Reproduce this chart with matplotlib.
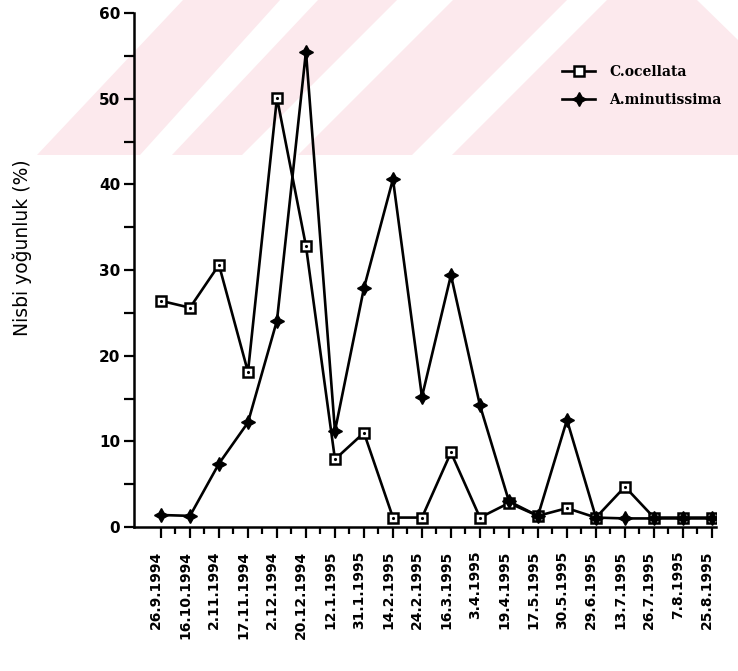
import numpy as np
import matplotlib
matplotlib.use('Agg')
import matplotlib.pyplot as plt
from matplotlib.patches import Polygon
from matplotlib.transforms import ScaledTranslation

dates = ['26.9.1994', '16.10.1994', '2.11.1994', '17.11.1994', '2.12.1994',
         '20.12.1994', '12.1.1995', '31.1.1995', '14.2.1995', '24.2.1995',
         '16.3.1995', '3.4.1995', '19.4.1995', '17.5.1995', '30.5.1995',
         '29.6.1995', '13.7.1995', '26.7.1995', '7.8.1995', '25.8.1995']
c_ocellata = [26.4, 25.6, 30.6, 18.1, 50.1, 32.8, 7.9, 11.0, 1.1, 1.1,
              8.7, 1.1, 2.8, 1.3, 2.2, 1.1, 4.7, 1.1, 1.1, 1.1]
a_minutissima = [1.4, 1.3, 7.4, 12.2, 24.1, 55.5, 11.2, 27.9, 40.6, 15.2,
                 29.4, 14.2, 3.0, 1.3, 12.5, 1.1, 1.0, 1.0, 1.0, 1.0]

W, H = 738, 671
fig = plt.figure(figsize=(W / 100, H / 100), dpi=100)

# pale pink watermark stripes from the scanned page (pixel coords, y from top)
stripes = [
    [(183, 0), (280, 0), (140, 155), (37, 155)],
    [(318, 0), (397, 0), (242, 155), (172, 155)],
    [(453, 0), (567, 0), (412, 155), (298, 155)],
    [(607, 0), (697, 0), (738, 40), (738, 155), (452, 155)],
]
for poly in stripes:
    pts = [(x / W, 1 - y / H) for x, y in poly]
    fig.patches.append(Polygon(pts, closed=True, transform=fig.transFigure,
                               facecolor='#fce9ed', edgecolor='none', zorder=-1))

ax = fig.add_axes([134 / W, 144 / H, 582 / W, 514 / H])
ax.patch.set_alpha(0)

x = np.arange(len(dates))
ax.plot(x, c_ocellata, color='black', lw=1.9, marker='s', ms=7.5,
        mfc='white', mec='black', mew=1.8, label='C.ocellata', zorder=3)
ax.plot(x, c_ocellata, ls='none', marker='.', ms=2.5, color='black', zorder=4)
ax.plot(x, a_minutissima, color='black', lw=1.9, marker=(4, 1, 0), ms=10,
        mfc='black', mec='black', label='A.minutissima', zorder=3)

ax.set_xlim(-0.93, 19.14)
ax.set_ylim(0, 60)

for s in ['top', 'right']:
    ax.spines[s].set_visible(False)
for s in ['left', 'bottom']:
    ax.spines[s].set_linewidth(1.8)

ax.set_yticks(np.arange(0, 61, 10))
ax.set_yticks(np.arange(5, 60, 10), minor=True)
ax.set_yticklabels([str(v) for v in range(0, 61, 10)], fontsize=11, fontweight='bold')
ax.tick_params(axis='y', which='both', direction='out', length=7, width=1.6, pad=3)

ax.set_xticks(x)
ax.set_xticks(x[:-1] + 0.5, minor=True)
ax.set_xticklabels(dates, rotation=90, fontsize=10, fontweight='bold', va='top')
ax.tick_params(axis='x', which='major', direction='out', length=8, width=1.6, pad=9)
ax.tick_params(axis='x', which='minor', direction='out', length=5, width=1.6)
offset = ScaledTranslation(-5 / 100, 0, fig.dpi_scale_trans)
for lab in ax.get_xticklabels():
    lab.set_transform(lab.get_transform() + offset)

ax.set_ylabel('Nisbi yoğunluk (%)', fontsize=13.5)
ax.yaxis.set_label_coords(-0.175, 0.543)

leg = ax.legend(loc='upper left', bbox_to_anchor=(555 / W, 1 - 58 / H),
                bbox_transform=fig.transFigure, frameon=False, borderpad=0,
                handlelength=2.4, handletextpad=1.0, labelspacing=1.0,
                prop={'family': 'DejaVu Serif', 'weight': 'bold', 'size': 10})

fig.savefig('out.png', dpi=100)
